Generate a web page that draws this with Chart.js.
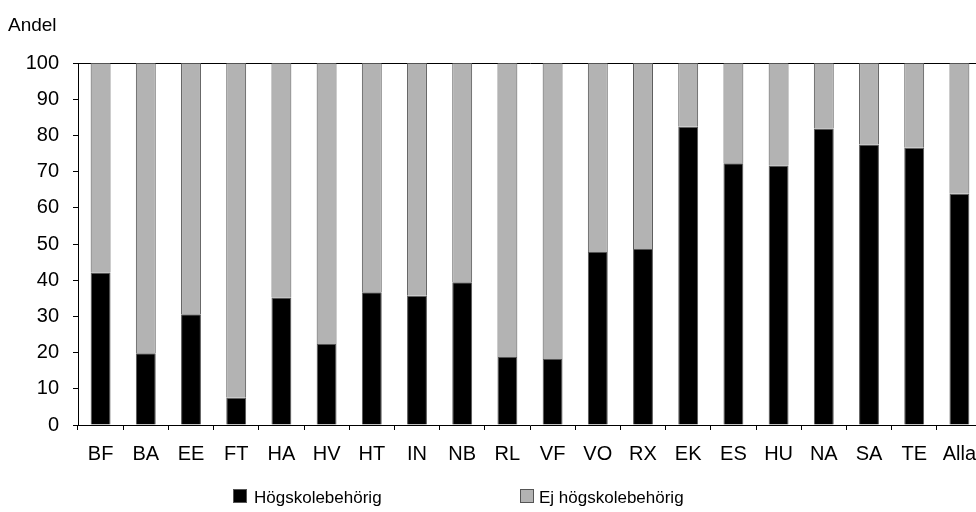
<!DOCTYPE html>
<html>
<head>
<meta charset="utf-8">
<script src="https://cdn.jsdelivr.net/npm/chart.js@4"></script>
<style>
  html, body { margin: 0; padding: 0; background: #fff; overflow: hidden; }
  body { width: 976px; height: 512px; position: relative; font-family: "Liberation Sans", Arial, sans-serif; }
  #wrap { position: absolute; left: 0; top: 0; width: 1000px; height: 512px; }
  .ytitle { position: absolute; left: 8px; top: 14px; font-size: 19px; color: #000; }
  .leg { position: absolute; top: 488px; font-size: 17px; color: #000; line-height: 20px; }
  .leg span.box { position: absolute; top: 1px; width: 12px; height: 12px; border: 1px solid #555; }
</style>
</head>
<body>
<div id="wrap"><canvas id="chart" width="1000" height="512"></canvas></div>
<div class="ytitle">Andel</div>
<div class="leg" style="left:233px"><span class="box" style="left:0;background:#000"></span><span style="margin-left:21px">Högskolebehörig</span></div>
<div class="leg" style="left:520px"><span class="box" style="left:0;background:#b3b3b3"></span><span style="margin-left:19px">Ej högskolebehörig</span></div>
<script>
const programs = ["BF", "BA", "EE", "FT", "HA", "HV", "HT", "IN", "NB", "RL", "VF", "VO", "RX", "EK", "ES", "HU", "NA", "SA", "TE", "Alla"];
const eligible = [42.1, 19.8, 30.6, 7.5, 35.2, 22.4, 36.7, 35.7, 39.4, 18.8, 18.2, 47.8, 48.6, 82.4, 72.3, 71.7, 81.9, 77.5, 76.6, 63.9];
const notEligible = [57.9, 80.2, 69.4, 92.5, 64.8, 77.6, 63.3, 64.3, 60.6, 81.2, 81.8, 52.2, 51.4, 17.6, 27.7, 28.3, 18.1, 22.5, 23.4, 36.1];
const yTicks = [0, 10, 20, 30, 40, 50, 60, 70, 80, 90, 100];

const font = { family: "'Liberation Sans', Arial, sans-serif", size: 20 };

new Chart(document.getElementById("chart"), {
    type: "bar",
    data: {
        labels: programs,
        datasets: [
            {
                label: "Högskolebehörig",
                data: eligible,
                backgroundColor: "#000000",
                borderColor: "#555555",
                borderWidth: 1,
                barPercentage: 0.44,
                categoryPercentage: 1,
            },
            {
                label: "Ej högskolebehörig",
                data: notEligible,
                backgroundColor: "#b3b3b3",
                borderColor: "#555555",
                borderWidth: 1,
                barPercentage: 0.44,
                categoryPercentage: 1,
            },
        ],
    },
    options: {
        responsive: false,
        animation: false,
        layout: { padding: { top: 63, right: 18, bottom: 0, left: 0 } },
        plugins: { legend: { display: false }, tooltip: { enabled: false } },
        scales: {
            x: {
                stacked: true,
                grid: { drawOnChartArea: false, drawTicks: true, tickLength: 5, color: "#000", offset: true },
                border: { color: "#000", width: 1 },
                ticks: { color: "#000", font: font, padding: 12, maxRotation: 0, autoSkip: false },
                afterFit: (s) => { s.height = 87; },
            },
            xTop: {
                position: "top",
                grid: { display: false },
                border: { color: "#000", width: 1 },
                ticks: { display: false },
                afterFit: (s) => { s.height = 0; },
            },
            y: {
                stacked: true,
                min: 0,
                max: 100,
                afterBuildTicks: (s) => { s.ticks = yTicks.map((v) => ({ value: v })); },
                grid: { drawOnChartArea: false, drawTicks: true, tickLength: 5, color: "#000" },
                border: { color: "#000", width: 1 },
                ticks: { color: "#000", font: font, padding: 14 },
                afterFit: (s) => { s.width = 78; },
            },
        },
    },
});
</script>
</body>
</html>
